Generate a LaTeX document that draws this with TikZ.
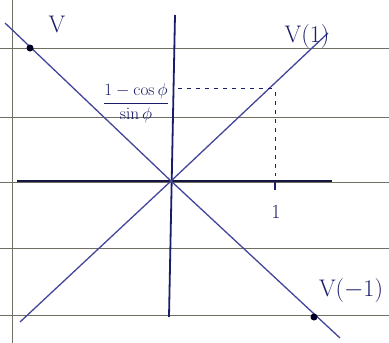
\documentclass[tikz,border=0pt]{standalone}
\usepackage{amsmath}
\begin{document}
\begin{tikzpicture}[x=1pt,y=-1pt,
  ruled/.style={draw=rulegray, line width=1pt},
  axisline/.style={draw=axisblue, line width=2.4pt},
  vaxis/.style={draw=inkblue, line width=1.8pt},
  diag/.style={draw=diagblue, line width=1.3pt},
  guide/.style={draw=inkblue, dash pattern=on 4pt off 5pt, line width=0.9pt},
  lab/.style={text=inkblue, inner sep=0pt, font=\fontsize{24}{26}\selectfont},
  dot/.style={circle, fill=black!85!blue, inner sep=0pt, minimum size=7pt}]
\definecolor{inkblue}{HTML}{1A1E6A}
\definecolor{axisblue}{HTML}{14163F}
\definecolor{diagblue}{HTML}{44469A}
\definecolor{rulegray}{HTML}{6E6E62}
\useasboundingbox (0,0) rectangle (389,343);
\fill[white] (0,0) rectangle (389,343);
% ruled paper
\foreach \yy in {48,117,182,248,315} \draw[ruled] (0,\yy) -- (389,\yy);
\draw[ruled] (12,0) -- (12,343);
% named points
\coordinate (O) at (171,181);
\coordinate (xl) at (17,181);
\coordinate (xr) at (332,181);
\coordinate (yt) at (175,15);
\coordinate (yb) at (169,317);
\coordinate (p1a) at (20,322);
\coordinate (p1b) at (328,33);
\coordinate (ma) at (5,23);
\coordinate (mb) at (340,338);
\coordinate (h0) at (178,88);
\coordinate (P) at (273,88);
\coordinate (Q) at (275,92);
\coordinate (T) at (275,176);
\coordinate (Ta) at (275,181);
\coordinate (Tb) at (275,190);
% axes
\draw[axisline] (xl) -- (xr);
\draw[vaxis] (yt) -- (yb);
% diagonals
\draw[diag] (p1a) -- (O) -- (p1b);
\draw[diag] (ma) -- (O) -- (mb);
% dots
\node[dot] (V) at (30,48) {};
\node[dot] (Vm) at (314,317) {};
% labels
\node[lab] (lV) at (57,24) {V};
\node[lab] (lV1) at (307,37) {V(1)};
\node[lab] (lVm) at (351,291) {V($-$1)};
\node[lab, font=\fontsize{20}{22}\selectfont] (one) at (276,212) {1};
\node[text=inkblue, inner sep=1pt, font=\fontsize{19}{21}\selectfont] (frac) at (136,103)
  {$\dfrac{1-\cos\phi}{\sin\phi}$};
% dashed guides
\draw[guide] (h0) -- (P);
\draw[guide] (Q) -- (T);
\draw[draw=inkblue, line width=1.2pt] (Ta) -- (Tb);
\end{tikzpicture}
\end{document}
